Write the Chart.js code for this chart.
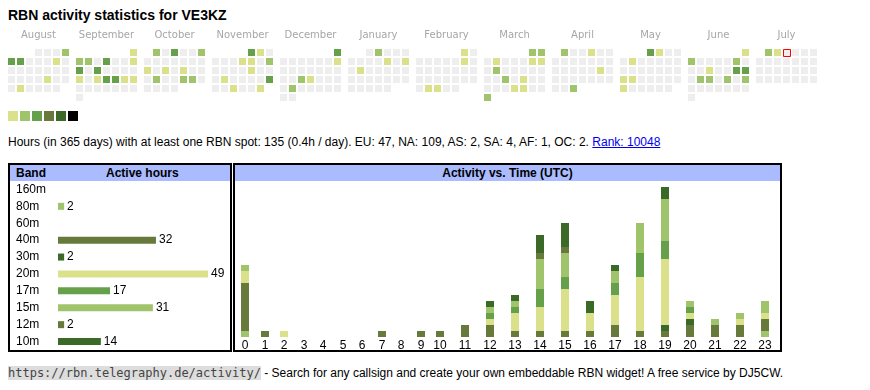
<!DOCTYPE html>
<html lang="en">
<head>
<meta charset="utf-8">
<title>RBN activity statistics for VE3KZ</title>
<script src="https://cdn.jsdelivr.net/npm/chart.js@4.4.1/dist/chart.umd.min.js"></script>
<style>
  body { margin: 0; background: #fff; color: #000; font-family: Arial, "Liberation Sans", sans-serif; font-size: 12px; }
  .abs { position: absolute; }
  #title { left: 8px; top: 7px; font-size: 14px; font-weight: bold; line-height: 16px; white-space: nowrap; }
  #calendar { left: 8px; top: 26px; }
  #legend { left: 8px; top: 111px; display: flex; gap: 2px; }
  #legend span { display: block; width: 10px; height: 10px; }
  #summary { left: 8px; top: 135px; line-height: 15px; white-space: nowrap; }
  #summary a { color: #0000ee; }
  .box { border: 2px solid #000; box-sizing: border-box; top: 163px; height: 189px; }
  #bands-box { left: 8px; width: 224px; }
  #hours-box { left: 233px; width: 549px; }
  .head { position: relative; height: 16px; line-height: 16px; background: #aabbff; font-weight: bold; white-space: nowrap; }
  .head span { position: absolute; }
  canvas { display: block; }
  #footer { left: 8px; top: 366px; line-height: 15px; white-space: nowrap; }
  #footer code { font-family: "DejaVu Sans Mono", monospace; font-size: 12px; background: #dddddd; color: #444; }
</style>
</head>
<body>

<div id="title" class="abs">RBN activity statistics for VE3KZ</div>
<canvas id="calendar" class="abs" width="822" height="76"></canvas>
<div id="legend" class="abs"></div>
<div id="summary" class="abs">Hours (in 365 days) with at least one RBN spot: 135 (0.4h / day). EU: 47, NA: 109, AS: 2, SA: 4, AF: 1, OC: 2. <a href="#">Rank: 10048</a></div>

<div id="bands-box" class="abs box">
  <div class="head"><span style="left:6px">Band</span><span style="left:96px">Active hours</span></div>
  <canvas id="bands" width="220" height="169"></canvas>
</div>
<div id="hours-box" class="abs box">
  <div class="head" style="text-align:center">Activity vs. Time (UTC)</div>
  <canvas id="hours" width="545" height="169"></canvas>
</div>

<div id="footer" class="abs"><code>https://rbn.telegraphy.de/activity/</code> - Search for any callsign and create your own embeddable RBN widget! A free service by DJ5CW.</div>

<script>
// Données du calendrier (août 2024 - juillet 2025)
const monthNames = ['August', 'September', 'October', 'November', 'December', 'January',
  'February', 'March', 'April', 'May', 'June', 'July'];
const firstDay = '2024-08-01';
const lastDay = '2025-07-27';
const today = '2025-07-03';
const activeDays = [
  '2024-08-04', '2024-08-05', '2024-08-06', '2024-08-10', '2024-08-23', '2024-08-27',
  '2024-09-01', '2024-09-02', '2024-09-03', '2024-09-05', '2024-09-08', '2024-09-09', '2024-09-11',
  '2024-09-16', '2024-09-18', '2024-09-19', '2024-09-20', '2024-09-21', '2024-09-22',
  '2024-10-01', '2024-10-03', '2024-10-06', '2024-10-14', '2024-10-16', '2024-10-18',
  '2024-10-22', '2024-10-25', '2024-10-26',
  '2024-11-01', '2024-11-02', '2024-11-07', '2024-11-08', '2024-11-10', '2024-11-15',
  '2024-11-19', '2024-11-24', '2024-11-27', '2024-11-30',
  '2024-12-01', '2024-12-08', '2024-12-18', '2024-12-19', '2024-12-24',
  '2025-01-02', '2025-01-10', '2025-01-12', '2025-01-14',
  '2025-02-01', '2025-02-08', '2025-02-25', '2025-02-26',
  '2025-03-01', '2025-03-02', '2025-03-04', '2025-03-08', '2025-03-09', '2025-03-11',
  '2025-03-19', '2025-03-21', '2025-03-27', '2025-03-28', '2025-03-31',
  '2025-04-01', '2025-04-04', '2025-04-19', '2025-04-30',
  '2025-05-01', '2025-05-02', '2025-05-06', '2025-05-19', '2025-05-20', '2025-05-26',
  '2025-06-01', '2025-06-02', '2025-06-07', '2025-06-11', '2025-06-14', '2025-06-15',
  '2025-06-17', '2025-06-18', '2025-06-20', '2025-06-22',
  '2025-07-01', '2025-07-02'
];
const activeLevels = [
  2, 3, 3, 1, 1, 1,
  1, 2, 2, 3, 1, 3, 3,
  1, 1, 3, 3, 1, 1,
  2, 3, 2, 1, 1, 1,
  2, 2, 2,
  3, 1, 1, 1, 2, 1,
  1, 3, 1, 1,
  3, 1, 2, 1, 2,
  2, 1, 1, 1,
  1, 1, 1, 1,
  2, 2, 1, 1, 1, 2,
  2, 1, 1, 1, 2,
  2, 1, 1, 2,
  3, 1, 1, 1, 1, 1,
  1, 2, 2, 1, 3, 3,
  2, 2, 2, 2,
  2, 1
];

// Heures actives par bande
const bands = ['160m', '80m', '60m', '40m', '30m', '20m', '17m', '15m', '12m', '10m'];
const bandHours = [0, 2, 0, 32, 2, 49, 17, 31, 2, 14];

// Activité par heure UTC, une liste par bande
const hourLabels = ['0', '1', '2', '3', '4', '5', '6', '7', '8', '9', '10', '11',
  '12', '13', '14', '15', '16', '17', '18', '19', '20', '21', '22', '23'];
const hours160 = [0, 0, 0, 0, 0, 0, 0, 0, 0, 0, 0, 0, 0, 0, 0, 0, 0, 0, 0, 0, 0, 0, 0, 0];
const hours80  = [1, 0, 0, 0, 0, 0, 0, 0, 0, 0, 0, 0, 0, 0, 0, 0, 0, 0, 0, 0, 0, 0, 0, 1];
const hours60  = [0, 0, 0, 0, 0, 0, 0, 0, 0, 0, 0, 0, 0, 0, 0, 0, 0, 0, 0, 0, 0, 0, 0, 0];
const hours40  = [8, 1, 0, 0, 0, 0, 0, 1, 0, 1, 1, 2, 2, 1, 1, 1, 1, 2, 1, 1, 2, 2, 2, 2];
const hours30  = [0, 0, 0, 0, 0, 0, 0, 0, 0, 0, 0, 0, 0, 0, 0, 0, 0, 0, 0, 1, 1, 0, 0, 0];
const hours20  = [2, 0, 1, 0, 0, 0, 0, 0, 0, 0, 0, 0, 1, 3, 4, 7, 3, 5, 9, 11, 1, 0, 1, 1];
const hours17  = [0, 0, 0, 0, 0, 0, 0, 0, 0, 0, 0, 0, 1, 1, 3, 2, 0, 2, 4, 3, 1, 0, 0, 0];
const hours15  = [1, 0, 0, 0, 0, 0, 0, 0, 0, 0, 0, 0, 1, 1, 5, 4, 0, 2, 5, 7, 1, 1, 1, 2];
const hours12  = [0, 0, 0, 0, 0, 0, 0, 0, 0, 0, 0, 0, 0, 0, 1, 1, 0, 0, 0, 0, 0, 0, 0, 0];
const hours10  = [0, 0, 0, 0, 0, 0, 0, 0, 0, 0, 0, 0, 1, 1, 3, 4, 2, 1, 0, 2, 0, 0, 0, 0];
const hoursByBand = [hours160, hours80, hours60, hours40, hours30, hours20, hours17, hours15, hours12, hours10];

// Couleurs
const levelColors = ['#eeeeee', '#dbe18b', '#9fc46b', '#67a04a', '#677a3b', '#3b6a28', '#000000'];
const bandColors = ['#dbe18b', '#9fc46b', '#67a04a', '#677a3b', '#3b6a28',
  '#dbe18b', '#67a04a', '#9fc46b', '#677a3b', '#3b6a28'];
const todayColor = '#ff0000';
const sansFont = 'Arial, "Liberation Sans", sans-serif';

// Pas de marges automatiques autour des axes
const noPadding = axis => {
  axis.paddingLeft = 0;
  axis.paddingRight = 0;
  axis.paddingTop = 0;
  axis.paddingBottom = 0;
};

// Légende des niveaux
const legend = document.getElementById('legend');
levelColors.slice(1).forEach(c => {
  const s = document.createElement('span');
  s.style.background = c;
  legend.appendChild(s);
});

// Calendrier : une case par jour, semaines en lignes, jours (lun-dim) en colonnes
const cellSize = 7;
const cellPitch = 9;
const monthPitch = 68;
const parseDate = s => { const [y, m, d] = s.split('-').map(Number); return new Date(y, m - 1, d); };
const start = parseDate(firstDay);
const end = parseDate(lastDay);
const levelOf = {};
activeDays.forEach((d, i) => { levelOf[d] = activeLevels[i]; });
const key = d => d.getFullYear() + '-' + String(d.getMonth() + 1).padStart(2, '0') + '-' + String(d.getDate()).padStart(2, '0');

const dayCells = [];
let todayCell = null;
for (let d = new Date(start); d <= end; d.setDate(d.getDate() + 1)) {
  const month = (d.getFullYear() - start.getFullYear()) * 12 + d.getMonth() - start.getMonth();
  const firstWeekday = (new Date(d.getFullYear(), d.getMonth(), 1).getDay() + 6) % 7;
  const col = (d.getDay() + 6) % 7;
  const row = Math.floor((d.getDate() - 1 + firstWeekday) / 7);
  const cell = {
    x: month * monthPitch + col * cellPitch + cellSize / 2,
    y: row * cellPitch + cellSize / 2,
    level: levelOf[key(d)] || 0
  };
  dayCells.push(cell);
  // contour décalé d'un demi-pixel pour un trait net
  if (key(d) === today) todayCell = { x: cell.x + 0.5, y: cell.y + 0.5 };
}

new Chart(document.getElementById('calendar'), {
  type: 'scatter',
  data: {
    datasets: [{
      data: dayCells,
      order: 1,
      pointStyle: 'rect',
      pointRadius: cellSize / Math.SQRT2,
      pointBorderWidth: 0,
      pointBackgroundColor: ctx => levelColors[ctx.raw ? ctx.raw.level : 0]
    }, {
      // case du jour, dessinée par-dessus avec un contour rouge
      data: todayCell ? [todayCell] : [],
      order: 0,
      pointStyle: 'rect',
      pointRadius: cellSize / Math.SQRT2,
      pointBorderWidth: 1,
      pointBorderColor: ctx => todayColor,
      pointBackgroundColor: ctx => levelColors[0]
    }]
  },
  options: {
    responsive: false,
    animation: false,
    events: [],
    layout: { padding: 0, autoPadding: false },
    plugins: { legend: { display: false }, tooltip: { enabled: false } },
    scales: {
      x: {
        type: 'linear',
        position: 'top',
        min: 0,
        max: 822,
        grid: { display: false, drawTicks: false },
        border: { display: false },
        afterBuildTicks: axis => {
          axis.ticks = monthNames.map((n, i) => ({ value: i * monthPitch + (6 * cellPitch + cellSize) / 2 }));
        },
        afterFit: axis => { axis.height = 23; noPadding(axis); },
        ticks: {
          autoSkip: false,
          maxRotation: 0,
          padding: 8,
          color: '#a6a6a6',
          font: { family: 'Verdana, "DejaVu Sans", sans-serif', size: 10 },
          callback: (value, index) => monthNames[index]
        }
      },
      y: { type: 'linear', display: false, min: 0, max: 53, reverse: true }
    }
  }
});

// Valeurs écrites au bout des barres
const valueLabels = {
  id: 'valueLabels',
  afterDatasetsDraw(chart) {
    const ctx = chart.ctx;
    ctx.save();
    ctx.font = '12px ' + sansFont;
    ctx.fillStyle = '#000';
    ctx.textBaseline = 'middle';
    chart.getDatasetMeta(0).data.forEach((bar, i) => {
      if (bandHours[i] > 0) ctx.fillText(bandHours[i], bar.x + 3, bar.y);
    });
    ctx.restore();
  }
};

// Heures actives par bande (barres horizontales, la plus longue fait 150 px)
const bandArea = 220 - 48;
new Chart(document.getElementById('bands'), {
  type: 'bar',
  data: {
    labels: bands,
    datasets: [{
      data: bandHours.map(v => v || null),
      backgroundColor: bandColors,
      barThickness: 7,
      borderWidth: 0,
      inflateAmount: 0
    }]
  },
  options: {
    indexAxis: 'y',
    responsive: false,
    animation: false,
    events: [],
    layout: { padding: { left: 6, right: 0, top: 0, bottom: 0 }, autoPadding: false },
    plugins: { legend: { display: false }, tooltip: { enabled: false } },
    scales: {
      x: { display: false, min: 0, max: Math.max(...bandHours) * bandArea / 150 },
      y: {
        grid: { display: false, drawTicks: false },
        border: { display: false },
        afterFit: axis => { axis.width = 42; noPadding(axis); },
        ticks: { autoSkip: false, crossAlign: 'far', padding: 0, color: '#000', font: { family: sansFont, size: 12 } }
      }
    }
  },
  plugins: [valueLabels]
});

// Activité par heure : colonnes plus larges pour les heures à deux chiffres
const colWidth = label => label.length === 1 ? 19.5 : 25;
const hourPos = [];
let pos = 10;
hourLabels.forEach(label => {
  hourPos.push(Math.round(pos));
  pos += colWidth(label);
});

new Chart(document.getElementById('hours'), {
  type: 'bar',
  data: {
    datasets: bands.map((b, i) => ({
      label: b,
      data: hoursByBand[i].map((v, h) => ({ x: hourPos[h], y: v || null })),
      backgroundColor: bandColors[i],
      barThickness: 8,
      borderWidth: 0,
      inflateAmount: 0
    }))
  },
  options: {
    responsive: false,
    animation: false,
    events: [],
    layout: { padding: 0, autoPadding: false },
    plugins: { legend: { display: false }, tooltip: { enabled: false } },
    scales: {
      x: {
        type: 'linear',
        stacked: true,
        offset: false,
        min: 0,
        max: 545,
        grid: { display: false, drawTicks: false },
        border: { display: false },
        afterBuildTicks: axis => { axis.ticks = hourPos.map(v => ({ value: v })); },
        afterFit: axis => { axis.height = 13; noPadding(axis); },
        ticks: {
          autoSkip: false,
          maxRotation: 0,
          padding: 1,
          color: '#000',
          font: { family: sansFont, size: 12 },
          callback: (value, index) => hourLabels[index]
        }
      },
      y: { stacked: true, display: false, min: 0, max: 26 }
    }
  }
});
</script>
</body>
</html>
